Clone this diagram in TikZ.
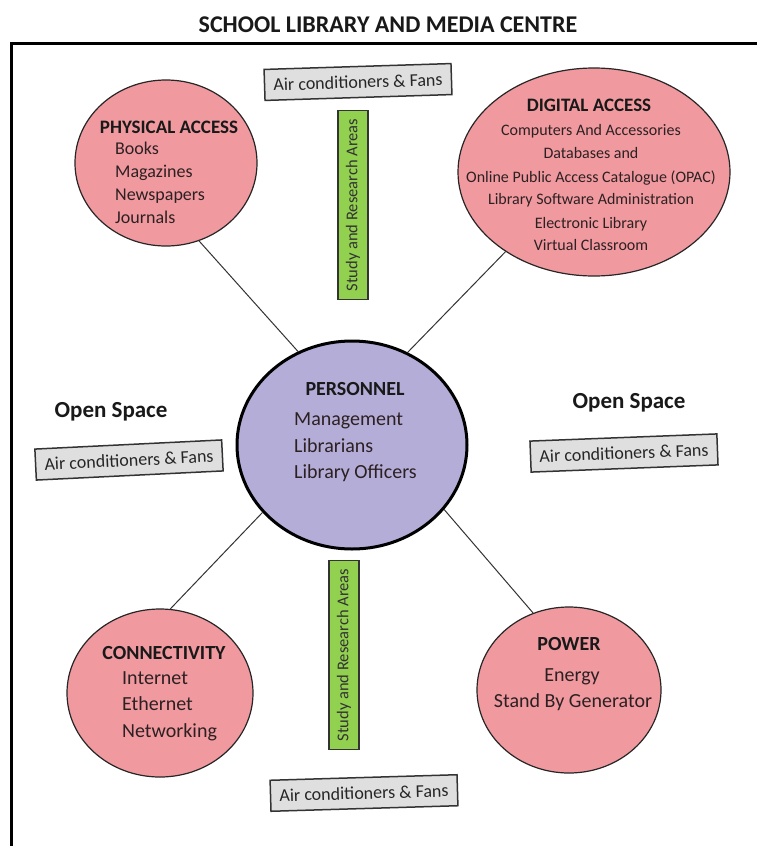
\documentclass[tikz,border=0pt]{standalone}
\usepackage{fontspec}
\setmainfont{Carlito}
\usetikzlibrary{shapes.geometric}
\definecolor{pinkfill}{RGB}{240,154,160}
\definecolor{lavfill}{RGB}{180,173,216}
\definecolor{greenfill}{RGB}{146,208,80}
\definecolor{grayfill}{RGB}{223,223,223}
\definecolor{txt}{RGB}{45,32,34}
\begin{document}
\begin{tikzpicture}[x=1pt,y=-1pt,
  area/.style={ellipse, draw=black!85, line width=1.2pt, fill=pinkfill, inner sep=0pt},
  central/.style={ellipse, draw=black, line width=3pt, fill=lavfill, inner sep=0pt},
  acbox/.style={draw=black!80, line width=1.5pt, fill=grayfill, minimum width=187pt, minimum height=31pt, inner sep=0pt, font=\fontsize{18}{20}\selectfont, text=black!85},
  studybox/.style={draw=black!80, line width=1.3pt, fill=greenfill, minimum width=189pt, minimum height=30pt, inner sep=0pt, rotate=90, font=\fontsize{16.5}{18}\selectfont, text=black!80},
  link/.style={draw=black!80, line width=1pt},
  head/.style={font=\bfseries\fontsize{#1}{#1}\selectfont, text=black!90, inner sep=0pt, anchor=mid, yshift=-3pt},
  item/.style={font=\fontsize{#1}{#1}\selectfont, text=txt, inner sep=0pt, anchor=mid west, yshift=-3pt},
  citem/.style={font=\fontsize{#1}{#1}\selectfont, text=txt, inner sep=0pt, anchor=mid, yshift=-3pt},
  space/.style={font=\bfseries\fontsize{23}{23}\selectfont, text=black!90, inner sep=0pt, anchor=mid, yshift=-3pt}
]
\useasboundingbox (0,0) rectangle (756,846);
\fill[white] (0,0) rectangle (756,846);

% title and frame
\node[font=\bfseries\fontsize{24}{26}\selectfont, text=black!90, inner sep=0pt] (title) at (388,25) {SCHOOL LIBRARY AND MEDIA CENTRE};
\draw[line width=3pt] (760,43) -- (11,43) -- (11,850);

% ellipses
\node[area, minimum width=182pt, minimum height=166pt] (pa) at (166,163) {};
\node[area, minimum width=272pt, minimum height=208pt] (da) at (594,172) {};
\node[central, minimum width=230pt, minimum height=208pt] (pers) at (352,445) {};
\node[area, minimum width=186pt, minimum height=168pt] (con) at (160,693) {};
\node[area, minimum width=184pt, minimum height=166pt] (pow) at (569,690) {};

% connectors
\draw[link] (pa.-67) -- (pers.120);
\draw[link] (da.222) -- (pers.59);
\draw[link] (con.83) -- (pers.217);
\draw[link] (pow.115) -- (pers.-35);

% physical access
\node[head=19] (patitle) at (169,128) {PHYSICAL ACCESS};
\node[item=18] (pa1) at (115,149) {Books};
\node[item=18] (pa2) at (115,172) {Magazines};
\node[item=18] (pa3) at (115,195) {Newspapers};
\node[item=18] (pa4) at (115,218) {Journals};

% digital access
\node[head=19] (datitle) at (589,106) {DIGITAL ACCESS};
\node[citem=16] (da1) at (591,130) {Computers And Accessories};
\node[citem=16] (da2) at (591,153) {Databases and};
\node[citem=16] (da3) at (591,177) {Online Public Access Catalogue (OPAC)};
\node[citem=16] (da4) at (591,199) {Library Software Administration};
\node[citem=16] (da5) at (591,223) {Electronic Library};
\node[citem=16] (da6) at (591,245) {Virtual Classroom};

% personnel
\node[head=20] (perstitle) at (355,390) {PERSONNEL};
\node[item=20] (pe1) at (294,420) {Management};
\node[item=20] (pe2) at (294,447) {Librarians};
\node[item=20] (pe3) at (294,473) {Library Officers};

% connectivity
\node[head=20] (contitle) at (164,654) {CONNECTIVITY};
\node[item=20] (co1) at (122,679) {Internet};
\node[item=20] (co2) at (122,705) {Ethernet};
\node[item=20] (co3) at (122,732) {Networking};

% power
\node[head=20] (powtitle) at (569,645) {POWER};
\node[citem=20] (po1) at (572,676) {Energy};
\node[citem=20] (po2) at (573,702) {Stand By Generator};

% open spaces
\node[space] (osl) at (111,412) {Open Space};
\node[space] (osr) at (629,403) {Open Space};

% air conditioner boxes
\node[acbox, rotate=1.8] (actop) at (358,82) {Air conditioners \& Fans};
\node[acbox, rotate=2.8] (acleft) at (129,460) {Air conditioners \& Fans};
\node[acbox, rotate=2.2] (acright) at (624,453) {Air conditioners \& Fans};
\node[acbox, rotate=1.7] (acbottom) at (364,793) {Air conditioners \& Fans};

% study areas
\node[studybox] (sttop) at (353,205) {Study and Research Areas};
\node[studybox] (stbottom) at (344,655) {Study and Research Areas};
\end{tikzpicture}
\end{document}
